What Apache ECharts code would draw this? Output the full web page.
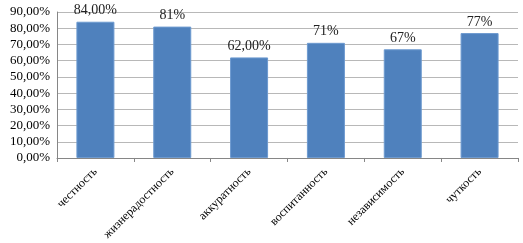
<!DOCTYPE html>
<html><head><meta charset="utf-8">
<script src="https://cdn.jsdelivr.net/npm/echarts@6/dist/echarts.min.js"></script>
<style>html,body{margin:0;padding:0;background:#fff}#c{width:523px;height:243px}</style>
</head><body><div id="c"></div>
<script>
const categories = ["честность","жизнерадостность","аккуратность","воспитанность","независимость","чуткость"];
const values = [84, 81, 62, 71, 67, 77];
const valueLabels = ["84,00%","81%","62,00%","71%","67%","77%"];
const yTicks = [0,10,20,30,40,50,60,70,80,90];
const FONT = '"Liberation Serif", "Times New Roman", serif';

const chart = echarts.init(document.getElementById('c'));
chart.setOption({
  animation:false,
  grid:{left:57,right:5,top:12,bottom:84},
  xAxis:{type:'category',data:categories,
    axisLine:{lineStyle:{color:'#868686'}},
    axisTick:{show:true,alignWithLabel:false,length:4,lineStyle:{color:'#868686'}},
    axisLabel:{rotate:45,interval:0,fontFamily:FONT,fontSize:12,color:'#000',margin:12}
  },
  yAxis:{type:'value',min:0,max:90,interval:10,
    axisLine:{show:true,lineStyle:{color:'#868686'}},
    axisTick:{show:false},
    splitLine:{lineStyle:{color:'#b8b8b8'}},
    axisLabel:{fontFamily:FONT,fontSize:13,color:'#000',margin:7,
      formatter:v=>v.toFixed(2).replace('.',',')+'%'}
  },
  series:[{type:'bar',data:values,barWidth:38,
    itemStyle:{color:'#4f81bd',borderColor:'#6d9ad0',borderWidth:1},
    label:{show:true,position:'top',distance:4,fontFamily:FONT,fontSize:14,color:'#222',
      formatter:p=>valueLabels[p.dataIndex]}
  }]
});
</script></body></html>
